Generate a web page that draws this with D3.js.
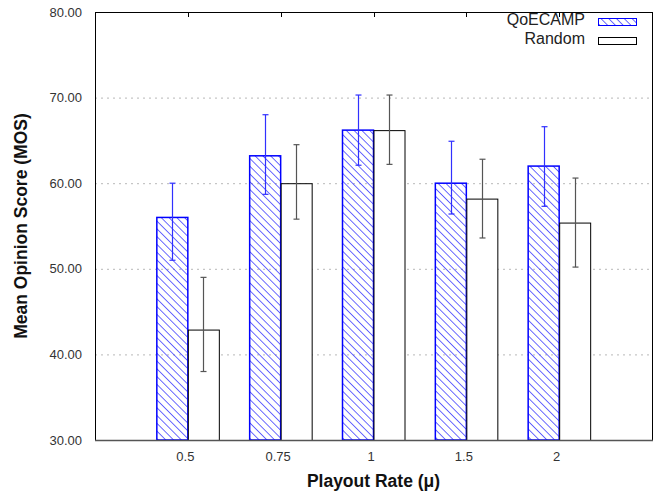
<!DOCTYPE html>
<html>
<head>
<meta charset="utf-8">
<script src="https://cdn.jsdelivr.net/npm/d3@7"></script>
<style>
  body { margin: 0; background: #fff; }
  svg { font-family: "Liberation Sans", Arial, sans-serif; }
</style>
</head>
<body>
<div id="chart"></div>
<script>
// categories and series values
const rates = ['0.5', '0.75', '1', '1.5', '2'];
const qoeMean = [56.0, 63.2, 66.2, 60.0, 62.0];
const qoeLow = [51.0, 58.7, 62.1, 56.4, 57.3];
const qoeHigh = [60.0, 68.0, 70.3, 64.9, 66.6];
const rndMean = [42.9, 60.0, 66.2, 58.2, 55.4];
const rndLow = [38.0, 55.8, 62.2, 53.6, 50.2];
const rndHigh = [49.0, 64.5, 70.3, 62.8, 60.6];
const yTicks = [30, 40, 50, 60, 70, 80];

const width = 660;
const height = 493;
const margin = {top: 12, right: 8, bottom: 53, left: 95};
const chartWidth = width - margin.left - margin.right;
const chartHeight = height - margin.top - margin.bottom;

const svg = d3.select('#chart')
    .append('svg')
    .attr('width', width)
    .attr('height', height);

const defs = svg.append('defs');
defs.append('pattern')
    .attr('id', 'hatch')
    .attr('patternUnits', 'userSpaceOnUse')
    .attr('width', 5.5)
    .attr('height', 5.5)
    .attr('patternTransform', 'rotate(-45)')
  .append('line')
    .attr('x1', 0).attr('y1', 0)
    .attr('x2', 0).attr('y2', 5.5)
    .attr('stroke', '#1a1aff')
    .attr('stroke-width', 1.3);

const g = svg.append('g')
    .attr('transform', `translate(${margin.left},${margin.top})`);

// x positions: categories at 1..5 on a 0..6 range
const xScale = d3.scaleLinear()
    .domain([0, rates.length + 1])
    .range([0, chartWidth]);
const yScale = d3.scaleLinear()
    .domain([30, 80])
    .range([chartHeight, 0]);
const barW = 31;

// dotted grid
g.append('g')
  .selectAll('line')
  .data(yTicks.filter(d => d > 30 && d < 80))
  .join('line')
    .attr('x1', 0)
    .attr('x2', chartWidth)
    .attr('y1', d => yScale(d) + 0.5)
    .attr('y2', d => yScale(d) + 0.5)
    .attr('stroke', '#b8b8b8')
    .attr('stroke-dasharray', '2,4');

const rows = rates.map((r, i) => ({
    rate: r, i: i + 1,
    qm: qoeMean[i], ql: qoeLow[i], qh: qoeHigh[i],
    rm: rndMean[i], rl: rndLow[i], rh: rndHigh[i]
}));

// QoECAMP bars
g.append('g')
  .selectAll('rect')
  .data(rows)
  .join('rect')
    .attr('x', d => xScale(d.i) - barW)
    .attr('y', d => yScale(d.qm))
    .attr('width', barW)
    .attr('height', d => chartHeight - yScale(d.qm))
    .attr('fill', 'url(#hatch)')
    .attr('stroke', '#0000ff')
    .attr('stroke-width', 1.5);

// Random bars
g.append('g')
  .selectAll('rect')
  .data(rows)
  .join('rect')
    .attr('x', d => xScale(d.i) + 0.5)
    .attr('y', d => yScale(d.rm) + 0.5)
    .attr('width', barW)
    .attr('height', d => chartHeight - yScale(d.rm))
    .attr('fill', '#fff')
    .attr('stroke', '#000')
    .attr('stroke-width', 1);

// error bars
function drawErrors(lo, hi, dx, color) {
    const eg = g.append('g')
        .selectAll('g')
        .data(rows)
        .join('g')
          .attr('stroke', color)
          .attr('stroke-width', 1.2);
    const cx = d => Math.round(xScale(d.i) + dx) + 0.5;
    eg.append('line')
        .attr('x1', cx).attr('x2', cx)
        .attr('y1', d => yScale(d[lo]))
        .attr('y2', d => yScale(d[hi]));
    [lo, hi].forEach(k => {
        eg.append('line')
            .attr('x1', d => cx(d) - 3).attr('x2', d => cx(d) + 3)
            .attr('y1', d => yScale(d[k]))
            .attr('y2', d => yScale(d[k]));
    });
}
drawErrors('ql', 'qh', -barW / 2, '#3030ff');
drawErrors('rl', 'rh', barW / 2, '#555');

// frame
g.append('rect')
    .attr('x', 0.5).attr('y', 0.5)
    .attr('width', chartWidth)
    .attr('height', chartHeight)
    .attr('fill', 'none')
    .attr('stroke', '#000');

// top mirror ticks
g.append('g')
  .selectAll('line')
  .data(rows)
  .join('line')
    .attr('x1', d => Math.round(xScale(d.i)) + 0.5)
    .attr('x2', d => Math.round(xScale(d.i)) + 0.5)
    .attr('y1', 0)
    .attr('y2', 5)
    .attr('stroke', '#000');

// axes
const yAxis = d3.axisLeft(yScale)
    .tickValues(yTicks)
    .tickSize(0)
    .tickPadding(13)
    .tickFormat(d3.format('.2f'));
const yg = g.append('g').call(yAxis);
yg.select('.domain').remove();
yg.selectAll('text')
    .attr('font-size', 13)
    .attr('fill', '#333')
    .attr('font-family', '"Liberation Sans", Arial, sans-serif');

const xAxis = d3.axisBottom(xScale)
    .tickValues(rows.map(d => d.i))
    .tickFormat(v => rates[v - 1])
    .tickSize(0)
    .tickPadding(12);
const xg = g.append('g')
    .attr('transform', `translate(-3,${chartHeight})`)
    .call(xAxis);
xg.select('.domain').remove();
xg.selectAll('text')
    .attr('font-size', 13)
    .attr('fill', '#333')
    .attr('font-family', '"Liberation Sans", Arial, sans-serif');

// bottom axis line drawn thicker gray as in the reference
g.append('line')
    .attr('x1', 0).attr('x2', chartWidth + 1)
    .attr('y1', chartHeight + 0.5).attr('y2', chartHeight + 0.5)
    .attr('stroke', '#555')
    .attr('stroke-width', 1.5);

// axis titles
svg.append('text')
    .attr('x', margin.left + chartWidth / 2)
    .attr('y', 487)
    .attr('text-anchor', 'middle')
    .attr('font-size', 17.5)
    .attr('font-weight', 'bold')
    .attr('fill', '#111')
    .text('Playout Rate (μ)');

svg.append('text')
    .attr('transform', `translate(27,${margin.top + chartHeight / 2}) rotate(-90)`)
    .attr('text-anchor', 'middle')
    .attr('font-size', 17.5)
    .attr('font-weight', 'bold')
    .attr('fill', '#111')
    .text('Mean Opinion Score (MOS)');

// legend
const legend = [
    {label: 'QoECAMP', fill: 'url(#hatch)', stroke: '#0000ff'},
    {label: 'Random', fill: '#fff', stroke: '#000'}
];
const lg = svg.append('g')
    .selectAll('g')
    .data(legend)
    .join('g')
      .attr('transform', (d, i) => `translate(0,${25 + i * 19})`);
lg.append('text')
    .attr('x', 585)
    .attr('y', 0)
    .attr('text-anchor', 'end')
    .attr('font-size', 16)
    .attr('fill', '#222')
    .text(d => d.label);
lg.append('rect')
    .attr('x', 598.5)
    .attr('y', -6.5)
    .attr('width', 38)
    .attr('height', 7)
    .attr('fill', d => d.fill)
    .attr('stroke', d => d.stroke);
</script>
</body>
</html>
